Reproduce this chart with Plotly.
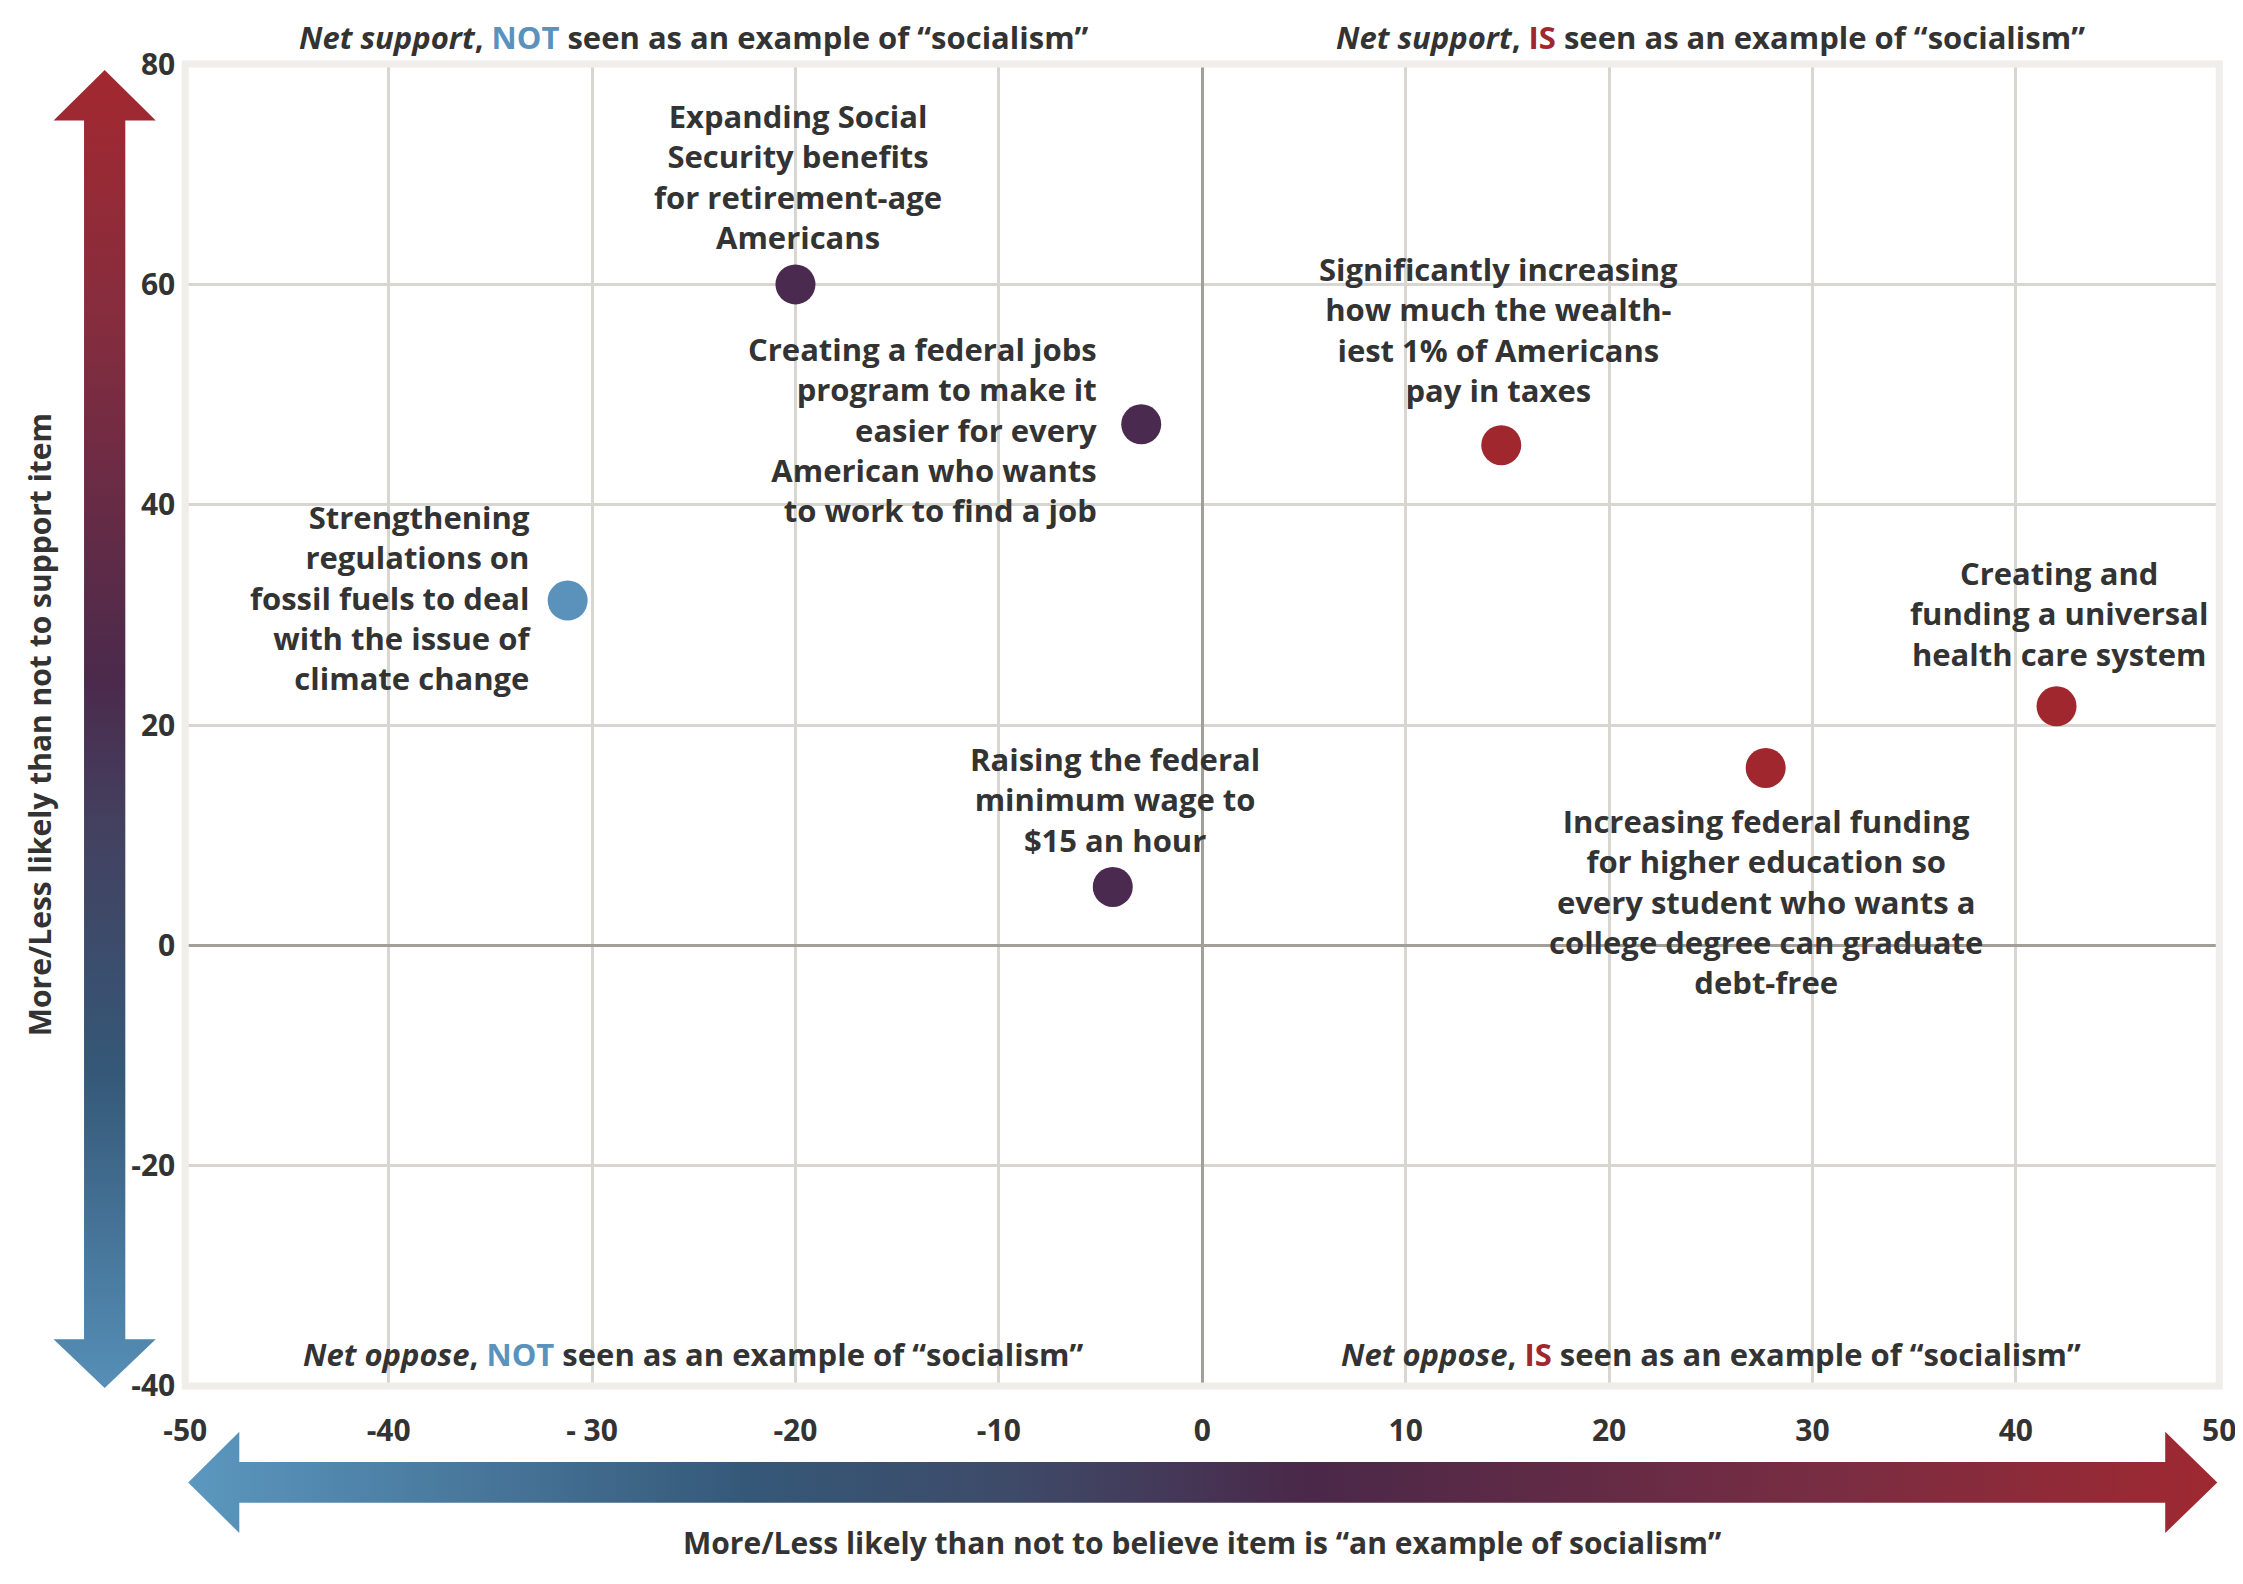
"""Scatter of policy items: net support vs. net 'seen as socialism', with gradient arrows."""

import plotly.graph_objects as go

WIDTH, HEIGHT = 2243, 1584
SHIFT = 8  # the page body margin pushes the figure 8px right and down
FONT = "Open Sans"
TEXT_COLOR = "#333333"
BLUE = "#5A92BB"
PURPLE = "#4B2A4F"
RED = "#A1272E"

# Data
items = [
    "Expanding Social<br>Security benefits<br>for retirement-age<br>Americans",
    "Creating a federal jobs<br>program to make it<br>easier for every<br>American who wants<br>to work to find a job",
    "Strengthening<br>regulations on<br>fossil fuels to deal<br>with the issue of<br>climate change",
    "Raising the federal<br>minimum wage to<br>$15 an hour",
    "Significantly increasing<br>how much the wealth-<br>iest 1% of Americans<br>pay in taxes",
    "Creating and<br>funding a universal<br>health care system",
    "Increasing federal funding<br>for higher education so<br>every student who wants a<br>college degree can graduate<br>debt-free",
]
net_socialism = [-20.0, -3.0, -31.2, -4.4, 14.7, 42.0, 27.7]
net_support = [60.0, 47.3, 31.3, 5.3, 45.4, 21.7, 16.1]
groups = ["neutral", "neutral", "not", "neutral", "is", "is", "is"]

x_tickvals = [-50, -40, -30, -20, -10, 0, 10, 20, 30, 40, 50]
x_ticktext = ["-50", "-40", "- 30", "-20", "-10", "0", "10", "20", "30", "40", "50"]
y_tickvals = [-40, -20, 0, 20, 40, 60, 80]
y_ticktext = ["-40", "-20", "0", "20", "40", "60", "80"]

# label placement: anchor, pixel shift of the text block centre from the point
label_layout = [
    ("center", 3, 108, "center"),
    ("right", -42, -5, "right"),
    ("right", -35, 3, "right"),
    ("center", 2, 87, "center"),
    ("center", -3, 116, "center"),
    ("center", 2, 93, "center"),
    ("center", 0, -134, "center"),
]

group_colors = {"not": BLUE, "neutral": PURPLE, "is": RED}

# plot area in page pixels (as measured on the reference)
PLOT_LEFT, PLOT_RIGHT, PLOT_TOP, PLOT_BOTTOM = 166, 2236, 44, 1401


def px(v):
    return v - SHIFT


def font(size=31, color=TEXT_COLOR):
    return {"family": FONT, "size": size, "color": color, "weight": 700}


fig = go.Figure()

fig.add_trace(
    go.Scatter(
        x=net_socialism,
        y=net_support,
        mode="markers",
        marker={"size": 40, "color": [group_colors[g] for g in groups], "line": {"width": 0}},
        text=[t.replace("<br>", " ") for t in items],
        hovertemplate="%{text}<br>%{x}, %{y}<extra></extra>",
        showlegend=False,
    )
)

# gradient arrows drawn on a full-page pixel axis
v_arrow_x = [84, 136, 105, 105, 136, 84, 32, 63, 63, 32, 84]
v_arrow_y = [50, 102, 102, 1353, 1353, 1403, 1353, 1353, 102, 102, 50]
h_arrow_x = [169, 221, 221, 2181, 2181, 2234, 2181, 2181, 221, 221, 169]
h_arrow_y = [1500, 1448, 1479, 1479, 1448, 1500, 1552, 1521, 1521, 1552, 1500]

fig.add_trace(
    go.Scatter(
        x=[px(v) for v in v_arrow_x],
        y=[px(v) for v in v_arrow_y],
        xaxis="x2",
        yaxis="y2",
        mode="lines",
        line={"width": 0},
        fill="toself",
        fillgradient={
            "type": "vertical",
            "start": px(50),
            "stop": px(1403),
            "colorscale": [
                [0.0, "#A3282F"],
                [0.18, "#862D3E"],
                [0.45, "#4B2A4C"],
                [0.55, "#443F5E"],
                [0.74, "#355878"],
                [1.0, "#5A95BE"],
            ],
        },
        hoverinfo="skip",
        showlegend=False,
    )
)
fig.add_trace(
    go.Scatter(
        x=[px(v) for v in h_arrow_x],
        y=[px(v) for v in h_arrow_y],
        xaxis="x2",
        yaxis="y2",
        mode="lines",
        line={"width": 0},
        fill="toself",
        fillgradient={
            "type": "horizontal",
            "start": px(169),
            "stop": px(2234),
            "colorscale": [
                [0.0, "#5B97BF"],
                [0.27, "#355878"],
                [0.4, "#3E4A68"],
                [0.54, "#4A2849"],
                [0.8, "#7A2D42"],
                [1.0, "#A3282F"],
            ],
        },
        hoverinfo="skip",
        showlegend=False,
    )
)

annotations = []
for text, x, y, (anchor, dx, dy, align) in zip(items, net_socialism, net_support, label_layout):
    annotations.append(
        {
            "text": text,
            "x": x,
            "y": y,
            "xref": "x",
            "yref": "y",
            "xanchor": anchor,
            "yanchor": "middle",
            "xshift": dx,
            "yshift": dy,
            "align": align,
            "showarrow": False,
            "font": font(),
        }
    )

quadrants = [
    (-25, 80, 27, "Net support", "NOT", BLUE),
    (25, 80, 27, "Net support", "IS", RED),
    (-25, -40, 32, "Net oppose", "NOT", BLUE),
    (25, -40, 32, "Net oppose", "IS", RED),
]
for x, y, dy, lead, key, color in quadrants:
    annotations.append(
        {
            "text": (
                f"<i>{lead}</i>, <span style='color:{color}'>{key}</span>"
                " seen as an example of \u201csocialism\u201d"
            ),
            "x": x,
            "y": y,
            "xref": "x",
            "yref": "y",
            "xanchor": "center",
            "yanchor": "middle",
            "yshift": dy,
            "showarrow": False,
            "font": font(31),
        }
    )

annotations += [
    {
        "text": "More/Less likely than not to support item",
        "x": px(18) / WIDTH,
        "y": 1 - px(722) / HEIGHT,
        "xref": "paper",
        "yref": "paper",
        "textangle": -90,
        "xanchor": "center",
        "yanchor": "middle",
        "showarrow": False,
        "font": font(30),
    },
    {
        "text": "More/Less likely than not to believe item is \u201can example of socialism\u201d",
        "x": px(1201) / WIDTH,
        "y": 1 - px(1562) / HEIGHT,
        "xref": "paper",
        "yref": "paper",
        "xanchor": "center",
        "yanchor": "middle",
        "showarrow": False,
        "font": font(30),
    },
]

axis_style = {
    "showgrid": True,
    "gridcolor": "#D7D6D1",
    "gridwidth": 3,
    "zeroline": True,
    "zerolinecolor": "#A09F9A",
    "zerolinewidth": 3,
    "showline": False,
    "fixedrange": True,
    "tickfont": font(30),
    "ticklabeloverflow": "allow",
    "ticks": "outside",
    "tickcolor": "rgba(0,0,0,0)",
}

fig.update_layout(
    width=WIDTH,
    height=HEIGHT,
    margin={"l": 0, "r": 0, "t": 0, "b": 0},
    paper_bgcolor="white",
    plot_bgcolor="rgba(0,0,0,0)",
    showlegend=False,
    xaxis={
        **axis_style,
        "domain": [px(PLOT_LEFT) / WIDTH, px(PLOT_RIGHT) / WIDTH],
        "range": [-50, 50],
        "tickvals": x_tickvals,
        "ticktext": x_ticktext,
        "ticklen": 18,
    },
    yaxis={
        **axis_style,
        "domain": [1 - px(PLOT_BOTTOM) / HEIGHT, 1 - px(PLOT_TOP) / HEIGHT],
        "range": [-40, 80],
        "tickvals": y_tickvals,
        "ticktext": y_ticktext,
        "ticklen": 3,
    },
    xaxis2={
        "domain": [0, 1],
        "range": [0, WIDTH],
        "anchor": "y2",
        "visible": False,
        "fixedrange": True,
    },
    yaxis2={
        "domain": [0, 1],
        "range": [HEIGHT, 0],
        "anchor": "x2",
        "visible": False,
        "fixedrange": True,
    },
    shapes=[
        {
            "type": "rect",
            "xref": "x domain",
            "yref": "y domain",
            "x0": 0,
            "x1": 1,
            "y0": 0,
            "y1": 1,
            "line": {"color": "#EFEEEA", "width": 7},
            "layer": "above",
        }
    ],
    annotations=annotations,
)

fig.write_html("out.html")
